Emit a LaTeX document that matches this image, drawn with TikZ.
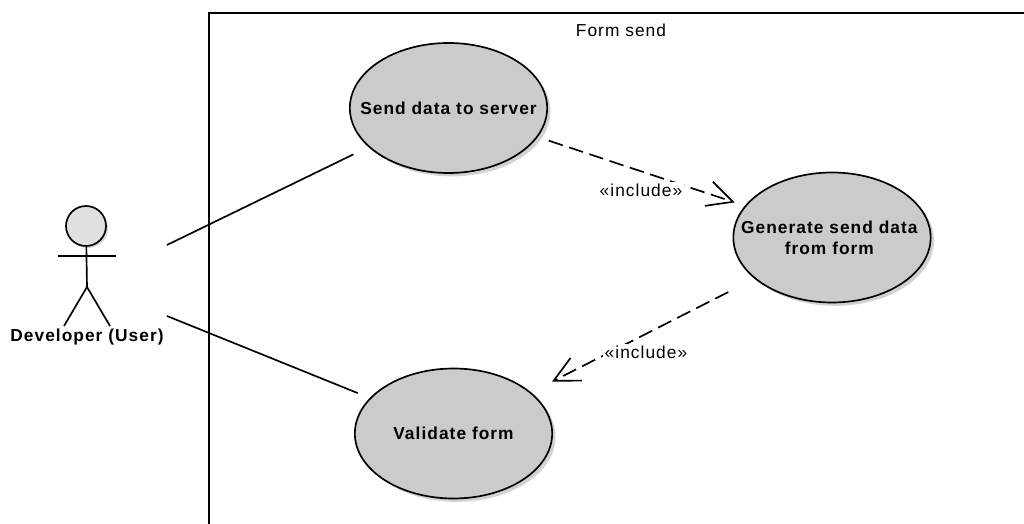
\documentclass[tikz,border=0pt]{standalone}
\usepackage{fontspec}
\setmainfont[LetterSpace=6]{Liberation Sans}
\usetikzlibrary{arrows.meta,shapes.geometric,shadows}
\definecolor{casefill}{HTML}{CBCBCB}
\definecolor{headfill}{HTML}{E0E0E0}
\definecolor{shadowgray}{HTML}{D2D2D2}
\begin{document}
\begin{tikzpicture}
    [x=0.75pt,y=-0.75pt,line width=1.25pt,
     casebox/.style={shape=ellipse,draw=black,fill=casefill,inner sep=0pt,
       minimum width=148pt,minimum height=97.5pt,
       drop shadow={shadow xshift=2.5pt,shadow yshift=-2.5pt,fill=shadowgray,opacity=1}},
     casetext/.style={font=\fontsize{13}{16}\selectfont\bfseries,align=center,inner sep=0pt},
     assoc/.style={-,shorten <=0pt},
     incl/.style={-{Straight Barb[length=19pt,width=19pt,line width=1.25pt]},dash pattern=on 11pt off 5pt},
     incltext/.style={fill=white,inner sep=1pt,font=\fontsize{13}{15}\selectfont}]
    \useasboundingbox (0,0) rectangle (1024,524);
    % system frame
    \draw (1024,13) -- (209,13) -- (209,524);
    \node [font=\fontsize{13}{15}\selectfont] (frame) at (621,30) {Form send};
    % use cases
    \node [casebox] (send) at (448.5,108)
      [label={[casetext]center:Send data to server}] {};
    \node [casebox] (generate) at (832,237.5)
      [label={[casetext,xshift=-2pt]center:Generate send data\\from form}] {};
    \node [casebox] (validate) at (453.5,433.5)
      [label={[casetext]center:Validate form}] {};
    % actor
    \node [shape=circle,draw=black,fill=headfill,inner sep=0pt,minimum size=30pt,
      drop shadow={shadow xshift=1.5pt,shadow yshift=-1.5pt,fill=shadowgray,opacity=1}] (head) at (86,226) {};
    \node [font=\fontsize{13}{15}\selectfont\bfseries] (developer) at (87,337) {Developer (User)};
    \coordinate (hip) at (87,287);
    \coordinate (armL) at (58,256);
    \coordinate (armR) at (116,256);
    \coordinate (footL) at (64,326);
    \coordinate (footR) at (110,326);
    \coordinate (actorA) at (167,245);
    \coordinate (actorB) at (167,316);
    \draw (head) -- (hip);
    \draw (armL) -- (armR);
    \draw (footL) -- (hip) -- (footR);
    % connectors
    \draw [assoc,shorten >=12.5pt] (actorA) -- (send.206.9);
    \draw [assoc,shorten >=9.7pt] (actorB) -- (validate.157.6);
    \draw [incl,shorten <=8.7pt,shorten >=8pt] (send.-18.5) -- (generate.160.1)
      node [incltext] (incA) at (641,190) {«include»};
    \draw [incl,shorten <=22pt,shorten >=17.6pt] (generate.208.6) -- (validate.28.2)
      node [incltext] (incB) at (646,352) {«include»};
\end{tikzpicture}
\end{document}
